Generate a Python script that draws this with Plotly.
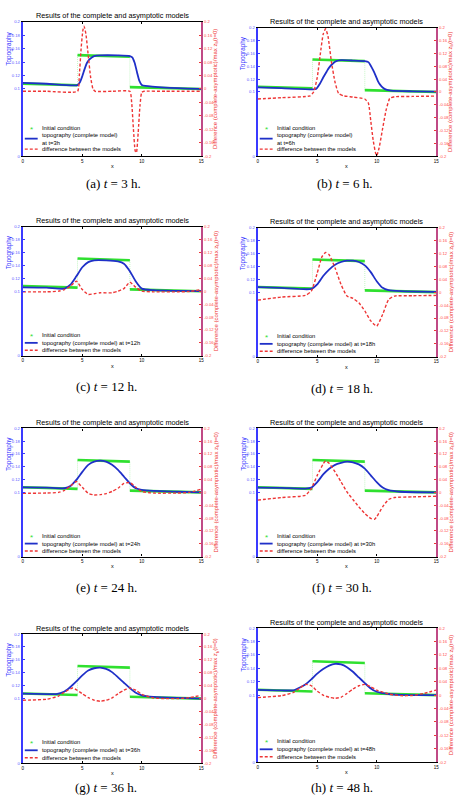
import plotly.graph_objects as go

W, H = 460, 798

TITLE = "Results of the complete and asymptotic models"
PANEL_LABELS = ["a", "b", "c", "d", "e", "f", "g", "h"]
TIMES_H = [3, 6, 12, 18, 24, 30, 36, 48]

X_TICKS = [0, 5, 10, 15]
TOPO_TICKS = [0, 0.1, 0.12, 0.14, 0.16, 0.18, 0.2]
TOPO_TICK_TEXT = ["0", "0.1", "0.12", "0.14", "0.16", "0.18", "0.2"]
DIFF_TICKS = [0.2, 0.16, 0.12, 0.08, 0.04, 0, -0.04, -0.08, -0.12, -0.16, -0.2]
DIFF_TICK_TEXT = ["0.2", "0.16", "0.12", "0.08", "0.04", "0", "-0.04", "-0.08", "-0.12", "-0.16", "-0.2"]

# initial condition (piecewise, same for all panels)
IC_X = [0, 4.6, 4.6, 9.0, 9.0, 15]
IC_Y = [0.108, 0.1055, 0.1505, 0.148, 0.1028, 0.100]

# topography (complete model)
TOPO_X_A = [0, 2, 4.6, 4.8, 5.0, 5.2, 5.4, 5.6, 5.8, 6.0, 6.5, 8.0, 9.0, 9.2, 9.4, 9.6, 9.8, 10.0, 10.3, 12, 15]
TOPO_Y_A = [0.109, 0.1078, 0.1058, 0.110, 0.119, 0.130, 0.139, 0.144, 0.147, 0.149, 0.150, 0.150, 0.149, 0.147, 0.139, 0.125, 0.112, 0.106, 0.1045, 0.102, 0.100]
TOPO_X_B = [0, 2, 4.6, 4.9, 5.2, 5.5, 5.8, 6.0, 6.3, 6.6, 7.0, 8.0, 9.0, 9.3, 9.5, 9.7, 9.9, 10.1, 10.3, 10.5, 10.8, 11.2, 13, 15]
TOPO_Y_B = [0.107, 0.1058, 0.104, 0.1045, 0.112, 0.1225, 0.132, 0.138, 0.144, 0.148, 0.1495, 0.149, 0.148, 0.1465, 0.141, 0.134, 0.126, 0.117, 0.111, 0.107, 0.1035, 0.102, 0.101, 0.1005]
TOPO_X_C = [0, 2, 3.5, 4.0, 4.5, 5.0, 5.5, 6.0, 7.0, 8.0, 8.5, 9.0, 9.5, 10.0, 11, 13, 15]
TOPO_Y_C = [0.106, 0.1055, 0.104, 0.110, 0.123, 0.137, 0.145, 0.1477, 0.1477, 0.146, 0.1426, 0.131, 0.115, 0.104, 0.1015, 0.1005, 0.100]
TOPO_X_D = [0, 2, 4.5, 5.0, 5.5, 6.0, 6.5, 7.0, 7.5, 8.0, 8.5, 9.0, 9.5, 10.0, 10.5, 11.0, 12, 15]
TOPO_Y_D = [0.1077, 0.1065, 0.105, 0.112, 0.125, 0.135, 0.1426, 0.1467, 0.1487, 0.1487, 0.1467, 0.1415, 0.131, 0.117, 0.1067, 0.103, 0.1015, 0.1005]
TOPO_X_E = [0, 2, 3.5, 4.0, 4.5, 5.0, 5.5, 6.0, 6.5, 7.0, 7.5, 8.0, 8.5, 9.0, 9.5, 10.0, 11, 13, 15]
TOPO_Y_E = [0.108, 0.1075, 0.1065, 0.110, 0.1195, 0.132, 0.143, 0.148, 0.1496, 0.148, 0.143, 0.135, 0.1247, 0.1143, 0.1065, 0.104, 0.1023, 0.101, 0.100]
TOPO_X_F = [0, 2, 4, 4.5, 5, 5.5, 6, 6.5, 7, 7.5, 8, 8.5, 9, 9.5, 10, 10.5, 11, 12, 15]
TOPO_Y_F = [0.1075, 0.107, 0.106, 0.1075, 0.116, 0.128, 0.137, 0.143, 0.146, 0.148, 0.147, 0.1437, 0.137, 0.1266, 0.116, 0.1075, 0.1034, 0.101, 0.100]
TOPO_X_G = [0, 2, 2.8, 3.5, 4, 4.5, 5, 5.5, 6, 6.5, 7, 7.5, 8, 8.5, 9, 9.5, 10, 11, 13, 15]
TOPO_Y_G = [0.1077, 0.107, 0.107, 0.111, 0.118, 0.1267, 0.136, 0.1436, 0.147, 0.148, 0.146, 0.141, 0.133, 0.1246, 0.1164, 0.109, 0.105, 0.1026, 0.101, 0.100]
TOPO_X_H = [0, 2, 3, 3.5, 4, 4.5, 5, 5.5, 6, 6.5, 7, 7.5, 8, 8.5, 9, 9.5, 10, 11, 12, 15]
TOPO_Y_H = [0.1077, 0.107, 0.1072, 0.111, 0.116, 0.1235, 0.132, 0.1388, 0.144, 0.1467, 0.1457, 0.1417, 0.1348, 0.1264, 0.118, 0.110, 0.105, 0.1017, 0.1005, 0.100]

# difference between the models (right axis)
DIFF_X_A = [0, 2, 4.6, 4.75, 4.9, 5.05, 5.15, 5.3, 5.5, 5.7, 5.9, 6.1, 7.5, 9.0, 9.15, 9.3, 9.45, 9.55, 9.7, 9.85, 10.0, 10.2, 12, 15]
DIFF_Y_A = [-0.007, -0.007, -0.007, 0.04, 0.12, 0.175, 0.187, 0.165, 0.10, 0.035, 0.0, -0.007, -0.007, -0.007, -0.04, -0.12, -0.185, -0.19, -0.13, -0.05, -0.01, -0.007, -0.007, -0.007]
DIFF_X_B = [0, 2, 4.4, 4.7, 5.0, 5.3, 5.5, 5.7, 5.9, 6.2, 6.5, 6.8, 7.2, 8.0, 9.0, 9.3, 9.5, 9.7, 9.9, 10.0, 10.2, 10.5, 10.8, 11.1, 11.5, 13, 15]
DIFF_Y_B = [-0.022, -0.018, -0.012, 0.0, 0.045, 0.13, 0.18, 0.197, 0.175, 0.092, 0.03, -0.005, -0.012, -0.016, -0.022, -0.035, -0.09, -0.15, -0.19, -0.199, -0.175, -0.114, -0.055, -0.02, -0.015, -0.014, -0.013]
DIFF_X_C = [0, 2, 3, 3.5, 4.0, 4.5, 5.0, 5.5, 6.0, 6.5, 7.5, 8.0, 8.5, 9.0, 9.5, 10.0, 11, 13, 14, 15]
DIFF_Y_C = [-0.002, -0.002, 0.0, 0.005, 0.015, 0.031, 0.005, -0.01, -0.008, -0.005, -0.005, 0.0, 0.008, 0.028, 0.012, 0.0, -0.002, -0.002, -0.001, 0.005]
DIFF_X_D = [0, 2, 4, 4.5, 5.0, 5.4, 5.7, 6.0, 6.5, 7.0, 7.5, 8.0, 8.5, 9.0, 9.5, 10.0, 10.5, 11.0, 11.5, 13, 15]
DIFF_Y_D = [-0.0246, -0.015, -0.010, 0.003, 0.059, 0.11, 0.123, 0.116, 0.075, 0.024, -0.012, -0.019, -0.033, -0.058, -0.089, -0.105, -0.069, -0.023, -0.012, -0.011, -0.010]
DIFF_X_E = [0, 2, 3, 3.5, 4.0, 4.5, 5.0, 5.5, 6.0, 6.5, 7.0, 7.5, 8.0, 8.5, 9.0, 9.5, 10.0, 11, 13, 14, 15]
DIFF_Y_E = [-0.0026, -0.002, 0.0, 0.006, 0.02, 0.034, 0.016, -0.003, -0.008, -0.007, -0.004, 0.003, 0.013, 0.028, 0.031, 0.016, 0.003, -0.002, -0.002, 0.0, 0.01]
DIFF_X_F = [0, 2, 4, 4.5, 5, 5.5, 5.7, 6, 6.5, 7, 7.5, 8, 8.5, 9, 9.5, 9.8, 10, 10.5, 11, 11.5, 13, 15]
DIFF_Y_F = [-0.024, -0.016, -0.009, 0.012, 0.053, 0.089, 0.098, 0.091, 0.064, 0.033, 0.0015, -0.022, -0.045, -0.066, -0.081, -0.084, -0.076, -0.045, -0.022, -0.016, -0.014, -0.012]
DIFF_X_G = [0, 2, 3, 3.5, 4.2, 5, 5.5, 6, 6.5, 7, 7.5, 8, 8.5, 9, 9.5, 10, 11, 12, 13, 14, 15]
DIFF_Y_G = [-0.005, -0.002, 0.008, 0.02, 0.033, 0.015, 0.003, -0.005, -0.008, -0.005, 0.002, 0.015, 0.026, 0.033, 0.026, 0.013, 0.002, 0.0, 0.0, 0.003, 0.010]
DIFF_X_H = [0, 2, 3, 3.5, 4, 4.5, 5, 5.5, 6, 6.5, 7, 7.5, 8, 8.5, 9, 9.5, 10, 11, 12, 13, 14, 15]
DIFF_Y_H = [-0.0074, -0.0015, 0.008, 0.02, 0.032, 0.028, 0.012, 0.0, -0.0064, -0.0094, -0.0064, 0.005, 0.018, 0.028, 0.032, 0.025, 0.015, 0.0035, -0.0015, -0.001, 0.0054, 0.015]

TOPO_X = [TOPO_X_A, TOPO_X_B, TOPO_X_C, TOPO_X_D, TOPO_X_E, TOPO_X_F, TOPO_X_G, TOPO_X_H]
TOPO_Y = [TOPO_Y_A, TOPO_Y_B, TOPO_Y_C, TOPO_Y_D, TOPO_Y_E, TOPO_Y_F, TOPO_Y_G, TOPO_Y_H]
DIFF_X = [DIFF_X_A, DIFF_X_B, DIFF_X_C, DIFF_X_D, DIFF_X_E, DIFF_X_F, DIFF_X_G, DIFF_X_H]
DIFF_Y = [DIFF_Y_A, DIFF_Y_B, DIFF_Y_C, DIFF_Y_D, DIFF_Y_E, DIFF_Y_F, DIFF_Y_G, DIFF_Y_H]

# ---- layout geometry (pixels: left, right, top, bottom) ----
BOX = [(22, 202, 19, 154), (259, 439, 25, 154),
       (22, 202, 225, 355), (259, 439, 226, 356),
       (22, 202, 428, 557), (259, 439, 428, 557),
       (22, 202, 635, 765), (259, 439, 629, 764)]
CAPTION_POS = [(113, 182), (347, 182), (106, 386), (344, 388),
               (106, 588), (344, 588), (106, 789), (344, 789)]

BLUE = "#1f30c8"
AXBLUE = "#3a3aff"
RED = "#ee3535"
RIGHTAX = "#c04a86"
GREEN = "#2fe02f"
SANS = "Liberation Sans, Arial, sans-serif"
SERIF = "Liberation Serif, DejaVu Serif, serif"


def px(x):
    return x / W


def py(y):
    return 1 - y / H


# thick green segments: split the initial condition at its jumps
ic_seg_x, ic_seg_y = [], []
for k in range(len(IC_X)):
    if k > 0 and IC_X[k] == IC_X[k - 1]:
        ic_seg_x.append(None)
        ic_seg_y.append(None)
    ic_seg_x.append(IC_X[k])
    ic_seg_y.append(IC_Y[k])

fig = go.Figure()
layout = {}
annotations = []
shapes = []

for i in range(8):
    n = i + 1
    xid = "x" if n == 1 else f"x{n}"
    yid = "y" if n == 1 else f"y{n}"
    y2id = f"y{n + 8}"
    L, R, T, B = BOX[i]

    fig.add_trace(go.Scatter(x=IC_X, y=IC_Y, mode="lines", xaxis=xid, yaxis=yid,
                             line=dict(color="rgba(47,224,47,0.55)", width=0.5, dash="1px,1px"),
                             showlegend=False, hoverinfo="skip"))
    fig.add_trace(go.Scatter(x=ic_seg_x, y=ic_seg_y, mode="lines", xaxis=xid, yaxis=yid,
                             name="Initial condition",
                             line=dict(color=GREEN, width=2.6), showlegend=False))
    fig.add_trace(go.Scatter(x=TOPO_X[i], y=TOPO_Y[i], mode="lines", xaxis=xid, yaxis=yid,
                             name=f"topography (complete model) at t={TIMES_H[i]}h",
                             line=dict(color=BLUE, width=1.8, shape="spline", smoothing=0.6),
                             showlegend=False))
    fig.add_trace(go.Scatter(x=DIFF_X[i], y=DIFF_Y[i], mode="lines", xaxis=xid, yaxis=y2id,
                             name="difference between the models",
                             line=dict(color=RED, width=1.4, dash="3px,2px",
                                       shape="spline", smoothing=0.5),
                             showlegend=False))

    xkey = "xaxis" if n == 1 else f"xaxis{n}"
    ykey = "yaxis" if n == 1 else f"yaxis{n}"
    y2key = f"yaxis{n + 8}"
    layout[xkey] = dict(domain=[px(L), px(R)], anchor=yid, range=[0, 15],
                        tickmode="array", tickvals=X_TICKS, ticks="inside", ticklen=2,
                        tickcolor="black", tickfont=dict(size=4.5, color="black", family=SANS),
                        showline=True, linecolor="black", linewidth=1.4, mirror="ticks",
                        showgrid=False, zeroline=False)
    layout[ykey] = dict(domain=[py(B), py(T)], anchor=xid, range=[0, 0.2],
                        tickmode="array", tickvals=TOPO_TICKS, ticktext=TOPO_TICK_TEXT,
                        ticks="inside", ticklen=2, tickcolor=AXBLUE,
                        tickfont=dict(size=4.2, color="#5a5aff", family=SANS),
                        showline=True, linecolor=AXBLUE, linewidth=2,
                        showgrid=False, zeroline=False)
    layout[y2key] = dict(domain=[py(B), py(T)], anchor=xid, overlaying=yid, side="right",
                         range=[-0.2, 0.2], tickmode="array", tickvals=DIFF_TICKS,
                         ticktext=DIFF_TICK_TEXT, ticks="inside", ticklen=2, tickcolor=RED,
                         tickfont=dict(size=4.2, color="#ff4a4a", family=SANS),
                         showline=True, linecolor=RIGHTAX, linewidth=2,
                         showgrid=False, zeroline=False)

    # panel title
    annotations.append(dict(text=TITLE, x=px((L + R) / 2), y=py(T - 6), xref="paper", yref="paper",
                            xanchor="center", yanchor="middle", showarrow=False,
                            font=dict(size=7.3, color="black", family=SANS)))
    # x label
    annotations.append(dict(text="x", x=px((L + R) / 2), y=py(B + 10), xref="paper", yref="paper",
                            xanchor="center", yanchor="middle", showarrow=False,
                            font=dict(size=5.5, color="black", family=SANS)))
    # left axis title
    annotations.append(dict(text="Topography", x=px(L - 14), y=py(T + 0.2 * (B - T)),
                            xref="paper", yref="paper", xanchor="center", yanchor="middle",
                            textangle=-90, showarrow=False,
                            font=dict(size=6.4, color=AXBLUE, family=SANS)))
    # right axis title
    annotations.append(dict(text="Difference (complete-asymptotic)/max z<sub>b</sub>(t=0)",
                            x=px(R + 15), y=py((T + B) / 2), xref="paper", yref="paper",
                            xanchor="center", yanchor="middle", textangle=-90, showarrow=False,
                            font=dict(size=6.0, color=RED, family=SANS)))
    # caption
    cx, cy = CAPTION_POS[i]
    annotations.append(dict(text=f"({PANEL_LABELS[i]}) <i>t</i> = {TIMES_H[i]} h.",
                            x=px(cx), y=py(cy), xref="paper", yref="paper",
                            xanchor="center", yanchor="middle", showarrow=False,
                            font=dict(size=13, color="black", family=SERIF)))

    # in-plot legend
    two_line = TIMES_H[i] <= 6
    if two_line:
        rows = [B - 28, B - 17.5, B - 7]
        topo_label = f"topography (complete model)<br>at t={TIMES_H[i]}h"
    else:
        rows = [B - 21, B - 13, B - 5.5]
        topo_label = f"topography (complete model) at t={TIMES_H[i]}h"
    labels = ["Initial condition", topo_label, "difference between the models"]
    for lab, ry in zip(labels, rows):
        annotations.append(dict(text=lab, x=px(L + 17), y=py(ry), xref="paper", yref="paper",
                                xanchor="left", yanchor="middle", showarrow=False, align="left",
                                font=dict(size=5.8, color="black", family=SANS)))
    annotations.append(dict(text="*", x=px(L + 8.5), y=py(rows[0] + 1.5), xref="paper", yref="paper",
                            xanchor="center", yanchor="middle", showarrow=False,
                            font=dict(size=8, color=GREEN, family=SANS)))
    shapes.append(dict(type="line", xref="paper", yref="paper",
                       x0=px(L + 2), x1=px(L + 15), y0=py(rows[1]), y1=py(rows[1]),
                       line=dict(color=BLUE, width=1.8)))
    shapes.append(dict(type="line", xref="paper", yref="paper",
                       x0=px(L + 2), x1=px(L + 15), y0=py(rows[2]), y1=py(rows[2]),
                       line=dict(color=RED, width=1.4, dash="3px,2px")))

fig.update_layout(width=W, height=H, margin=dict(l=0, r=0, t=0, b=0),
                  paper_bgcolor="white", plot_bgcolor="white", showlegend=False,
                  annotations=annotations, shapes=shapes, **layout)

fig.write_html("out.html")
